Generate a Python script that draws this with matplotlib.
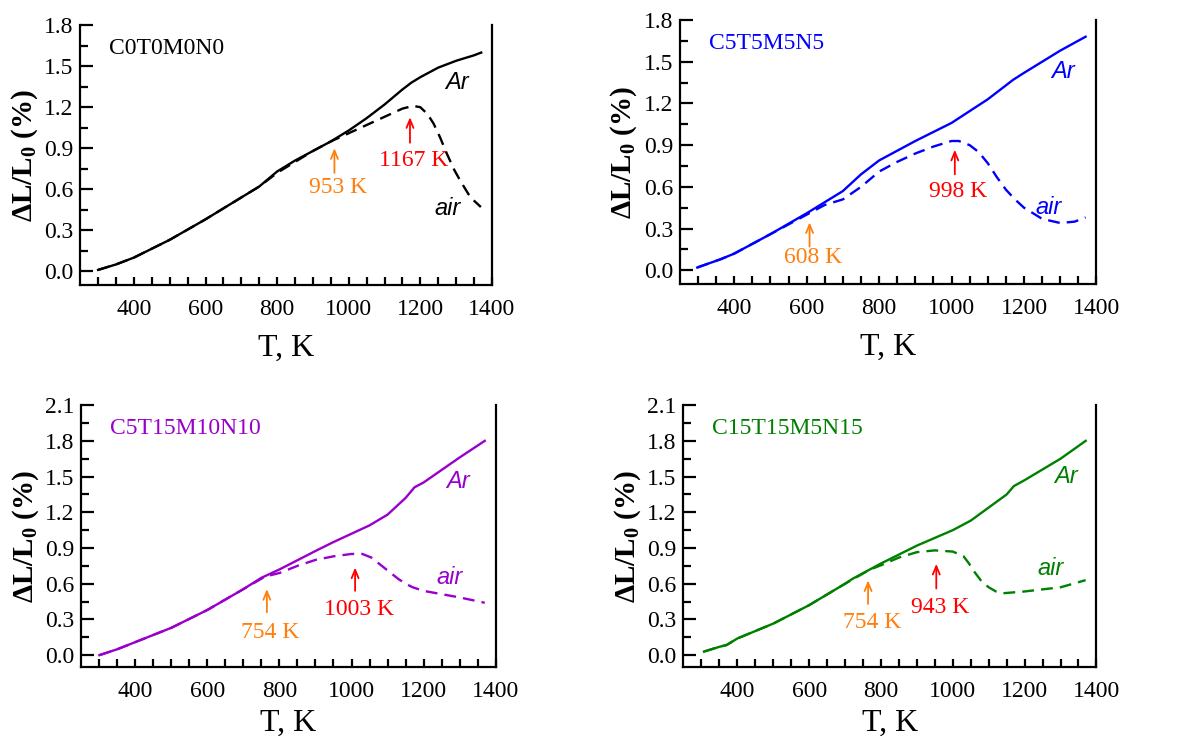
"""
Thermal expansion curves in Ar and air for four compositions
"""

import matplotlib
matplotlib.use('Agg')
import matplotlib.pyplot as plt

plt.rcParams['font.family'] = 'Liberation Serif'
plt.rcParams['mathtext.fontset'] = 'custom'
plt.rcParams['mathtext.rm'] = 'Liberation Serif'
plt.rcParams['mathtext.bf'] = 'Liberation Serif:bold'

# C0T0M0N0
t_ar_1 = [300, 350, 400, 500, 600, 700, 750, 800, 850, 900, 950, 1000, 1050, 1100, 1150, 1175, 1200, 1250, 1300, 1350, 1370]
dl_ar_1 = [0.01, 0.05, 0.10, 0.23, 0.38, 0.54, 0.62, 0.73, 0.81, 0.88, 0.95, 1.03, 1.12, 1.22, 1.33, 1.38, 1.42, 1.49, 1.54, 1.58, 1.60]
t_air_1 = [300, 350, 400, 500, 600, 700, 750, 800, 850, 900, 950, 1000, 1050, 1100, 1150, 1180, 1200, 1220, 1237, 1255, 1274, 1295, 1312, 1340, 1369]
dl_air_1 = [0.01, 0.05, 0.10, 0.23, 0.38, 0.54, 0.62, 0.72, 0.80, 0.88, 0.95, 1.01, 1.07, 1.13, 1.19, 1.21, 1.20, 1.15, 1.08, 0.98, 0.86, 0.74, 0.66, 0.54, 0.47]

# C5T5M5N5
t_ar_2 = [298, 363, 400, 500, 600, 700, 750, 800, 900, 1000, 1100, 1170, 1200, 1300, 1370]
dl_ar_2 = [0.02, 0.08, 0.12, 0.26, 0.41, 0.57, 0.69, 0.79, 0.93, 1.06, 1.23, 1.37, 1.42, 1.58, 1.68]
t_air_2 = [298, 363, 400, 500, 600, 650, 700, 750, 800, 850, 900, 950, 1000, 1020, 1050, 1075, 1100, 1125, 1150, 1175, 1200, 1250, 1300, 1340, 1370]
dl_air_2 = [0.02, 0.08, 0.12, 0.26, 0.40, 0.47, 0.51, 0.60, 0.71, 0.78, 0.84, 0.89, 0.93, 0.93, 0.90, 0.85, 0.77, 0.67, 0.58, 0.51, 0.45, 0.37, 0.34, 0.35, 0.38]

# C5T15M10N10
t_ar_3 = [300, 350, 400, 500, 600, 700, 750, 800, 900, 950, 1000, 1050, 1100, 1150, 1175, 1200, 1300, 1370]
dl_ar_3 = [0.0, 0.05, 0.11, 0.23, 0.38, 0.555, 0.65, 0.72, 0.875, 0.95, 1.02, 1.09, 1.18, 1.32, 1.41, 1.45, 1.66, 1.80]
t_air_3 = [300, 350, 400, 500, 600, 700, 760, 800, 850, 900, 950, 1000, 1030, 1055, 1080, 1105, 1130, 1150, 1170, 1200, 1300, 1370]
dl_air_3 = [0.0, 0.05, 0.11, 0.23, 0.38, 0.555, 0.66, 0.69, 0.75, 0.80, 0.83, 0.85, 0.85, 0.82, 0.76, 0.70, 0.64, 0.60, 0.57, 0.54, 0.485, 0.44]

# C15T15M5N15
t_ar_4 = [307, 350, 370, 400, 500, 600, 700, 720, 800, 900, 1000, 1050, 1100, 1150, 1170, 1200, 1300, 1370]
dl_ar_4 = [0.03, 0.07, 0.085, 0.14, 0.265, 0.42, 0.60, 0.64, 0.77, 0.92, 1.05, 1.13, 1.24, 1.35, 1.42, 1.47, 1.65, 1.80]
t_air_4 = [307, 350, 370, 400, 500, 600, 700, 770, 800, 850, 900, 950, 1000, 1030, 1045, 1060, 1080, 1100, 1120, 1140, 1200, 1300, 1370]
dl_air_4 = [0.03, 0.07, 0.085, 0.14, 0.265, 0.42, 0.60, 0.72, 0.755, 0.82, 0.865, 0.88, 0.87, 0.83, 0.77, 0.70, 0.62, 0.57, 0.535, 0.52, 0.535, 0.57, 0.63]

names = ['C0T0M0N0', 'C5T5M5N5', 'C5T15M10N10', 'C15T15M5N15']
colors = ['black', '#0000ff', '#9900cc', '#008000']
ymax = [1.8, 1.8, 2.1, 2.1]

# onset (orange) and maximum (red) temperatures: x, arrow head, arrow tail, text y
onset_labels = ['953 K', '608 K', '754 K', '754 K']
onset_x = [960, 608, 765, 764]
onset_y = [(0.90, 0.72, 0.69), (0.345, 0.17, 0.17), (0.555, 0.36, 0.28), (0.628, 0.43, 0.36)]
peak_labels = ['1167 K', '998 K', '1003 K', '943 K']
peak_x = [1171, 1009, 1010, 954]
peak_y = [(1.127, 0.94, 0.89), (0.867, 0.69, 0.64), (0.736, 0.54, 0.47), (0.767, 0.56, 0.49)]

ar_pos = [(1303, 1.38), (1308, 1.43), (1295, 1.46), (1314, 1.50)]
air_pos = [(1275, 0.46), (1267, 0.45), (1273, 0.65), (1272, 0.73)]

ar_data = [(t_ar_1, dl_ar_1), (t_ar_2, dl_ar_2), (t_ar_3, dl_ar_3), (t_ar_4, dl_ar_4)]
air_data = [(t_air_1, dl_air_1), (t_air_2, dl_air_2), (t_air_3, dl_air_3), (t_air_4, dl_air_4)]

# axes rectangles in figure fractions
rects = [
    [0.067, 0.616, 0.344, 0.350],
    [0.568, 0.617, 0.348, 0.356],
    [0.068, 0.101, 0.346, 0.353],
    [0.571, 0.101, 0.345, 0.353],
]
xlabel_pad = [10, 10, 5, 5]

fig = plt.figure(figsize=(11.97, 7.42), dpi=100)

for i in range(4):
    ax = fig.add_axes(rects[i])
    c = colors[i]
    ax.plot(*ar_data[i], color=c, lw=1.7)
    ax.plot(*air_data[i], color=c, lw=1.7, linestyle=(0, (5, 3)))

    ax.set_xlim(250, 1400)
    ax.set_ylim(-0.1, ymax[i])
    ax.set_xticks([400, 600, 800, 1000, 1200, 1400])
    ax.set_xticks(list(range(300, 1400, 50)), minor=True)
    ax.set_yticks([k * 0.3 for k in range(int(round(ymax[i] / 0.3)) + 1)])
    ax.set_yticks([k * 0.15 for k in range(int(round(ymax[i] / 0.15)) + 1)], minor=True)
    ax.yaxis.set_major_formatter(plt.FormatStrFormatter('%.1f'))

    ax.spines['top'].set_visible(False)
    for s in ['left', 'bottom', 'right']:
        ax.spines[s].set_linewidth(1.6)
    ax.tick_params(axis='both', which='both', direction='in', width=1.6, labelsize=17)
    ax.tick_params(axis='y', which='major', length=9, pad=5)
    ax.tick_params(axis='y', which='minor', length=5.5)
    ax.tick_params(axis='x', which='major', length=6, pad=10)
    ax.tick_params(axis='x', which='minor', length=6)
    ax.tick_params(axis='y', right=False)

    ax.set_xlabel('T, K', fontsize=23, labelpad=xlabel_pad[i])
    ax.set_ylabel(r'ΔL/L$_\mathbf{0}$ (%)', fontsize=21, fontweight='bold', labelpad=3)

    ax.text(0.07, 0.91, names[i], transform=ax.transAxes, color=c, fontsize=17, va='center')
    ax.text(*ar_pos[i], 'Ar', color=c, fontsize=17, style='italic', family='Liberation Sans',
            ha='center', va='center')
    ax.text(*air_pos[i], 'air', color=c, fontsize=17, style='italic', family='Liberation Sans',
            ha='center', va='center')

    for xs, ys, lab, col in [(onset_x[i], onset_y[i], onset_labels[i], '#ff7f0e'),
                             (peak_x[i], peak_y[i], peak_labels[i], '#ff0000')]:
        ax.annotate('', xy=(xs, ys[0]), xytext=(xs, ys[1]),
                    arrowprops=dict(arrowstyle='->,head_length=0.6,head_width=0.25', color=col, lw=1.3,
                                    shrinkA=0, shrinkB=0))
        ax.text(xs + 10, ys[2], lab, color=col, fontsize=17, ha='center', va='top')

plt.savefig('out.png', dpi=100)
